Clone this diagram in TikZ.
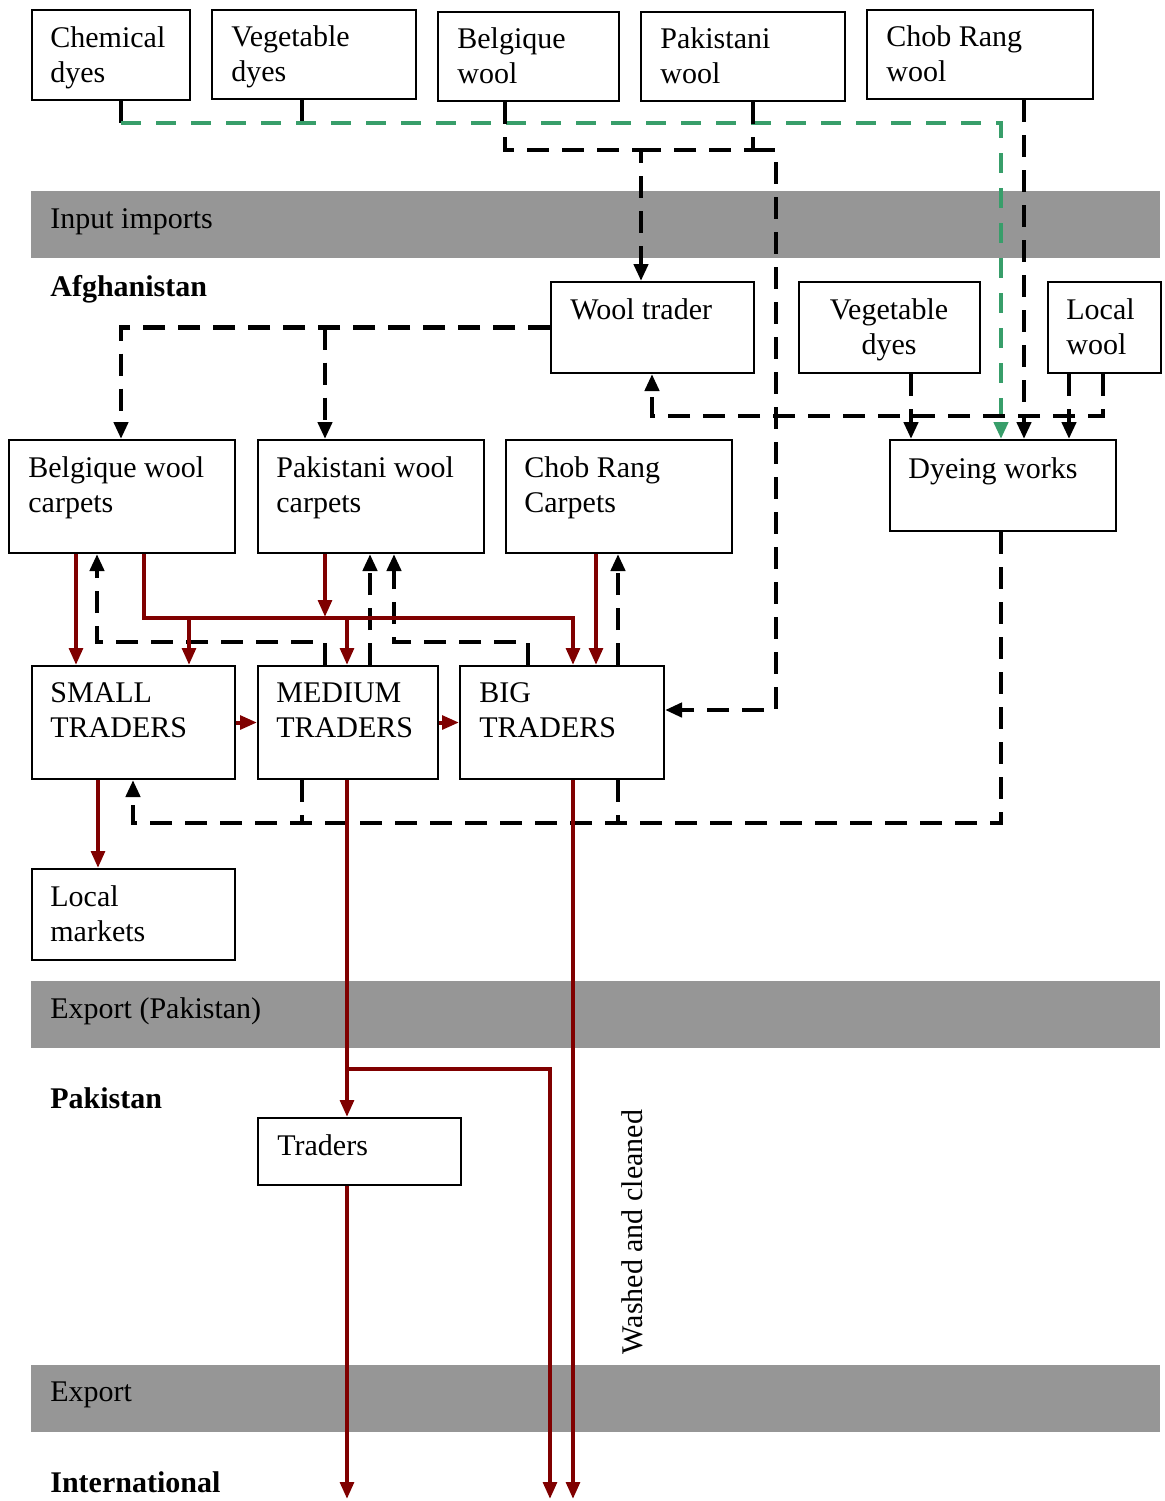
\documentclass[tikz,border=0pt]{standalone}
\usepackage{fontspec}
\setmainfont{Liberation Serif}
\usetikzlibrary{arrows.meta}
\definecolor{bandgray}{RGB}{150,150,150}
\definecolor{dred}{RGB}{128,0,0}
\definecolor{dgreen}{RGB}{56,158,106}
\newcommand\TL[1]{\begin{tabular}[t]{@{}l@{}}#1\end{tabular}}
\newcommand\TC[1]{\begin{tabular}[t]{@{}c@{}}#1\end{tabular}}
\begin{document}
\begin{tikzpicture}[x=0.5pt,y=-0.5pt,
  font=\fontsize{15}{17.5}\selectfont,
  box/.style={draw, line width=1pt, inner sep=0, anchor=north west},
  txt/.style={anchor=base west, inner sep=0},
  band/.style={fill=bandgray, draw=none, inner sep=0, anchor=north west, minimum width=564.5pt, minimum height=33.5pt},
  tip/.style={-{Triangle[length=8.5pt,width=7pt]}},
  blkd/.style={line width=2.4pt, dash pattern=on 11pt off 6.5pt},
  blks/.style={line width=2.4pt},
  grn/.style={line width=2.1pt, draw=dgreen, dash pattern=on 10pt off 7.5pt},
  red/.style={line width=2pt, draw=dred},
  rtip/.style={-{Triangle[length=8.5pt,width=6.8pt]}, dred},
]
\useasboundingbox (0,0) rectangle (1165,1501);

% bands
\node[band] (b1) at (31,191) {};
\node[band] (b2) at (31,981) {};
\node[band] (b3) at (31,1365) {};
\node[txt] (b1t) at (50,228) {Input imports};
\node[txt] (b2t) at (50,1018) {Export (Pakistan)};
\node[txt] (b3t) at (50,1401) {Export};
\node[txt, font=\fontsize{15}{17.5}\selectfont\bfseries] (afg) at (50,296) {Afghanistan};
\node[txt, font=\fontsize{15}{17.5}\selectfont\bfseries] (pak) at (50,1108) {Pakistan};
\node[txt, font=\fontsize{15}{17.5}\selectfont\bfseries] (intl) at (50,1492) {International};

% boxes
\node[box, minimum width=79pt, minimum height=45pt] (cd) at (31,9) {};
\node[box, minimum width=102pt, minimum height=44.5pt] (vd) at (211,9) {};
\node[box, minimum width=90.5pt, minimum height=44.5pt] (bw) at (437,11) {};
\node[box, minimum width=102pt, minimum height=44.5pt] (pw) at (640,11) {};
\node[box, minimum width=113pt, minimum height=44.5pt] (crw) at (866,9) {};
\node[box, minimum width=101.5pt, minimum height=45.5pt] (wt) at (550,281) {};
\node[box, minimum width=90.5pt, minimum height=45.5pt] (vd2) at (798,281) {};
\node[box, minimum width=56.5pt, minimum height=45.5pt] (lw) at (1047,281) {};
\node[box, minimum width=113pt, minimum height=56.5pt] (bwc) at (8,439) {};
\node[box, minimum width=113pt, minimum height=56.5pt] (pwc) at (257,439) {};
\node[box, minimum width=113pt, minimum height=56.5pt] (crc) at (505,439) {};
\node[box, minimum width=113pt, minimum height=45.5pt] (dw) at (889,439) {};
\node[box, minimum width=101.5pt, minimum height=56.5pt] (st) at (31,665) {};
\node[box, minimum width=90pt, minimum height=56.5pt] (mt) at (257,665) {};
\node[box, minimum width=102pt, minimum height=56.5pt] (bt) at (459,665) {};
\node[box, minimum width=101.5pt, minimum height=45.5pt] (lm) at (31,868) {};
\node[box, minimum width=101.5pt, minimum height=33.5pt] (tr) at (257,1117) {};

% box texts
\node[txt] (cdt) at (50,47) {\TL{Chemical\\dyes}};
\node[txt] (vdt) at (231,46) {\TL{Vegetable\\dyes}};
\node[txt] (bwt) at (457,48) {\TL{Belgique\\wool}};
\node[txt] (pwt) at (660,48) {\TL{Pakistani\\wool}};
\node[txt] (crwt) at (886,46) {\TL{Chob Rang\\wool}};
\node[txt] (wtt) at (570,319) {Wool trader};
\node[anchor=base, inner sep=0] (vd2t) at (889,319) {\TC{Vegetable\\dyes}};
\node[txt] (lwt) at (1066,319) {\TL{Local\\wool}};
\node[txt] (bwct) at (28,477) {\TL{Belgique wool\\carpets}};
\node[txt] (pwct) at (276,477) {\TL{Pakistani wool\\carpets}};
\node[txt] (crct) at (524,477) {\TL{Chob Rang\\Carpets}};
\node[txt] (dwt) at (908,478) {Dyeing works};
\node[txt] (stt) at (50,702) {\TL{SMALL\\TRADERS}};
\node[txt] (mtt) at (276,702) {\TL{MEDIUM\\TRADERS}};
\node[txt] (btt) at (479,702) {\TL{BIG\\TRADERS}};
\node[txt] (lmt) at (50,906) {\TL{Local\\markets}};
\node[txt] (trt) at (277,1155) {Traders};
\node[rotate=90, inner sep=0] (wash) at (632,1232) {Washed and cleaned};

% coordinates
\coordinate (g1) at (121,123);
\coordinate (g2) at (302,123);
\coordinate (k1) at (641,150);
\coordinate (k2) at (753,150);
\coordinate (k3) at (776,150);
\coordinate (lwj) at (1103,416);
\coordinate (rh) at (144,618);
\coordinate (dj) at (1001,823);
\coordinate (bot1) at (347,1499);
\coordinate (bot2) at (550,1499);
\coordinate (bot3) at (573,1499);

% green dyes line
\draw[blks] (121,0 |- cd.south) -- (g1);
\draw[blks] (302,0 |- vd.south) -- (g2);
\draw[grn, tip] (g1) -- (1001,123) -- (1001,0 |- dw.north);

% wool imports
\draw[blkd, tip] (505,0 |- bw.south) -- (505,150) -- (k1) -- (641,0 |- wt.north);
\draw[blkd] (753,0 |- pw.south) -- (k2) -- (k1);
\draw[blkd, tip] (k2) -- (k3) -- (776,710) -- (bt.east |- 0,710);
\draw[blkd, tip] (1024,0 |- crw.south) -- (1024,0 |- dw.north);
\draw[blkd, tip] (911,0 |- vd2.south) -- (911,0 |- dw.north);
\draw[blkd, tip] (1069,0 |- lw.south) -- (1069,0 |- dw.north);
\draw[blkd, tip] (1103,0 |- lw.south) -- (lwj) -- (652,416) -- (652,0 |- wt.south);

% wool trader to carpets
\draw[blkd, tip] (wt.west) -- (121,0 |- wt.west) -- (121,0 |- bwc.north);
\draw[blkd, tip] (325,0 |- wt.west) -- (325,0 |- pwc.north);

% dyeing works to traders
\draw[blkd, tip] (1001,0 |- dw.south) -- (dj) -- (133,823) -- (133,0 |- st.south);
\draw[blkd] (302,0 |- mt.south) -- (302,823);
\draw[blkd] (618,0 |- bt.south) -- (618,823);

% traders back to carpets
\draw[blkd, tip] (325,0 |- mt.north) -- (325,642) -- (97,642) -- (97,0 |- bwc.south);
\draw[blkd, tip] (370,0 |- mt.north) -- (370,0 |- pwc.south);
\draw[blkd, tip] (528,0 |- bt.north) -- (528,642) -- (394,642) -- (394,0 |- pwc.south);
\draw[blkd, tip] (618,0 |- bt.north) -- (618,0 |- crc.south);

% carpets to traders (red)
\draw[red, rtip] (76,0 |- bwc.south) -- (76,0 |- st.north);
\draw[red, rtip] (144,0 |- bwc.south) -- (rh) -- (573,618) -- (573,0 |- bt.north);
\draw[red, rtip] (189,618) -- (189,0 |- st.north);
\draw[red, rtip] (347,618) -- (347,0 |- mt.north);
\draw[red, rtip] (325,0 |- pwc.south) -- (325,617);
\draw[red, rtip] (596,0 |- crc.south) -- (596,0 |- bt.north);

% trader chain
\draw[red, rtip] (st.east) -- (mt.west);
\draw[red, rtip] (mt.east) -- (bt.west);
\draw[red, rtip] (98,0 |- st.south) -- (98,0 |- lm.north);

% exports
\draw[red, rtip] (347,0 |- mt.south) -- (347,0 |- tr.north);
\draw[red, rtip] (347,1069) -- (550,1069) -- (bot2);
\draw[red, rtip] (347,0 |- tr.south) -- (bot1);
\draw[red, rtip] (573,0 |- bt.south) -- (bot3);
\end{tikzpicture}
\end{document}
